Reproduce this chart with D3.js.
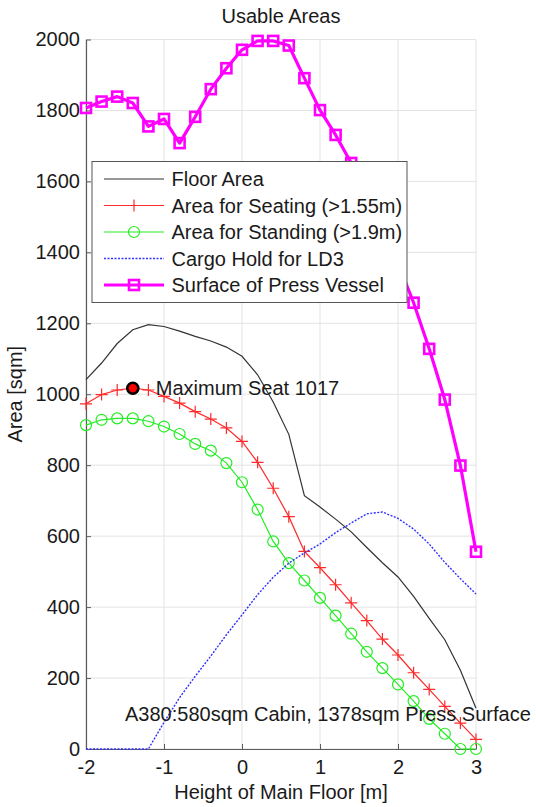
<!DOCTYPE html>
<html>
<head>
<meta charset="utf-8">
<script src="https://cdn.jsdelivr.net/npm/d3@7"></script>
<style>
  html, body { margin: 0; padding: 0; background: #fff; }
  svg { display: block; }
  text { font-family: "Liberation Sans", Arial, Helvetica, sans-serif; fill: #1a1a1a; }
</style>
</head>
<body>
<svg id="chart" width="536" height="807"></svg>
<script>
// ---- data ----
const heights = [-2, -1.8, -1.6, -1.4, -1.2, -1.0, -0.8, -0.6, -0.4, -0.2, 0, 0.2, 0.4, 0.6, 0.8, 1.0, 1.2, 1.4, 1.6, 1.8, 2.0, 2.2, 2.4, 2.6, 2.8, 3.0];
const floorArea   = [1041, 1088, 1143, 1182, 1196, 1191, 1178, 1163, 1150, 1133, 1107, 1055, 978, 887, 714, 682, 648, 612, 568, 525, 485, 430, 368, 308, 222, 115];
const seatingArea = [973, 999, 1012, 1017, 1012, 994, 975, 951, 930, 905, 867, 808, 735, 655, 557, 511, 463, 412, 362, 310, 265, 215, 168, 120, 73, 27];
const standingArea = [913, 928, 932, 932, 924, 909, 888, 860, 841, 806, 752, 675, 585, 524, 475, 426, 376, 325, 274, 228, 182, 135, 85, 43, 0, 0];
const cargoLD3    = [0, 0, 0, 0, 0, 75, 145, 205, 262, 322, 378, 435, 484, 524, 553, 578, 610, 637, 663, 668, 650, 620, 578, 526, 480, 437];
const pressVessel = [1807, 1825, 1839, 1821, 1755, 1776, 1708, 1782, 1860, 1919, 1971, 1996, 1996, 1983, 1891, 1801, 1731, 1652, 1560, 1468, 1370, 1258, 1128, 985, 799, 556];
const seriesNames = ["Floor Area", "Area for Seating (>1.55m)", "Area for Standing (>1.9m)", "Cargo Hold for LD3", "Surface of Press Vessel"];
const xTicks = [-2, -1, 0, 1, 2, 3];
const yTicks = [0, 200, 400, 600, 800, 1000, 1200, 1400, 1600, 1800, 2000];
const maxSeat = { x: -1.4, y: 1017, label: "Maximum Seat 1017" };
const note = { x: -1.5, y: 100, label: "A380:580sqm Cabin, 1378sqm Press Surface" };
const titleText = "Usable Areas";
const xLabel = "Height of Main Floor [m]";
const yLabel = "Area [sqm]";

// ---- layout ----
const FS = 20;
const pL = 86, pR = 476, pT = 39.5, pB = 749;
const svg = d3.select("#chart");
const x = d3.scaleLinear().domain([-2, 3]).range([pL, pR]);
const y = d3.scaleLinear().domain([0, 2000]).range([pB, pT]);

// grid
const grid = svg.append("g");
grid.selectAll("line.vx").data(xTicks).join("line")
  .attr("x1", d => x(d)).attr("x2", d => x(d)).attr("y1", pT).attr("y2", pB)
  .attr("stroke", "#e3e3e3").attr("stroke-width", 1);
grid.selectAll("line.hy").data(yTicks).join("line")
  .attr("x1", pL).attr("x2", pR).attr("y1", d => y(d)).attr("y2", d => y(d))
  .attr("stroke", "#e3e3e3").attr("stroke-width", 1);

// axes
const axisColor = "#5a5a5a";
const xAxis = svg.append("g").attr("transform", `translate(0,${pB})`)
  .call(d3.axisBottom(x).tickValues(xTicks).tickSizeInner(-5).tickSizeOuter(0).tickPadding(14).tickFormat(d => String(d)));
const yAxis = svg.append("g").attr("transform", `translate(${pL},0)`)
  .call(d3.axisLeft(y).tickValues(yTicks).tickSizeInner(-5).tickSizeOuter(0).tickPadding(6).tickFormat(d => String(d)));
[xAxis, yAxis].forEach(a => {
  a.select(".domain").attr("stroke", axisColor).attr("stroke-width", 1.2);
  a.selectAll(".tick line").attr("stroke", axisColor).attr("stroke-width", 1);
  a.selectAll(".tick text").attr("font-size", FS).attr("fill", "#1a1a1a")
    .attr("font-family", '"Liberation Sans", Arial, sans-serif');
});
xAxis.selectAll(".tick text").attr("dy", "0.71em").attr("y", 11);
yAxis.selectAll(".tick text").attr("x", -6);

// lines
const idx = d3.range(heights.length);
const lineOf = arr => d3.line().x(i => x(heights[i])).y(i => y(arr[i]));
const plot = svg.append("g");

// floor area
plot.append("path").attr("d", lineOf(floorArea)(idx))
  .attr("fill", "none").attr("stroke", "#333").attr("stroke-width", 1.2);

// seating
plot.append("path").attr("d", lineOf(seatingArea)(idx))
  .attr("fill", "none").attr("stroke", "#ff2a2a").attr("stroke-width", 1.2);
plot.selectAll("path.plus").data(idx).join("path")
  .attr("d", i => { const cx = x(heights[i]), cy = y(seatingArea[i]); return `M${cx-6},${cy}H${cx+6}M${cx},${cy-6}V${cy+6}`; })
  .attr("stroke", "#ff2a2a").attr("stroke-width", 1.2).attr("fill", "none");

// standing
plot.append("path").attr("d", lineOf(standingArea)(idx))
  .attr("fill", "none").attr("stroke", "#22ee22").attr("stroke-width", 1.2);
plot.selectAll("circle.std").data(idx).join("circle")
  .attr("cx", i => x(heights[i])).attr("cy", i => y(standingArea[i])).attr("r", 5.5)
  .attr("fill", "none").attr("stroke", "#22ee22").attr("stroke-width", 1.2);

// cargo
plot.append("path").attr("d", lineOf(cargoLD3)(idx))
  .attr("fill", "none").attr("stroke", "#3030ff").attr("stroke-width", 1.4)
  .attr("stroke-dasharray", "2 1.5");

// press vessel
plot.append("path").attr("d", lineOf(pressVessel)(idx))
  .attr("fill", "none").attr("stroke", "#ff00ff").attr("stroke-width", 3.2).attr("stroke-linejoin", "round");
plot.selectAll("rect.pv").data(idx).join("rect")
  .attr("x", i => x(heights[i]) - 5).attr("y", i => y(pressVessel[i]) - 5)
  .attr("width", 10).attr("height", 10)
  .attr("fill", "none").attr("stroke", "#ff00ff").attr("stroke-width", 2.6);

// max seat marker
svg.append("circle").attr("cx", x(maxSeat.x)).attr("cy", y(maxSeat.y)).attr("r", 5.5)
  .attr("fill", "#ff0000").attr("stroke", "#000").attr("stroke-width", 2.6);
svg.append("text").attr("x", x(maxSeat.x) + 23).attr("y", y(maxSeat.y)).attr("dy", "0.35em")
  .attr("font-size", FS).text(maxSeat.label);

// note
svg.append("text").attr("x", x(note.x)).attr("y", y(note.y)).attr("dy", "0.35em")
  .attr("font-size", FS).text(note.label);

// legend
const lg = svg.append("g");
lg.append("rect").attr("x", 92).attr("y", 161.5).attr("width", 315).attr("height", 141)
  .attr("fill", "#fff").attr("stroke", "#555").attr("stroke-width", 1);
const rowY = d3.range(5).map(i => 179 + i * 26.5);
const lx1 = 104, lx2 = 164, lmx = 134;
const styles = [
  { stroke: "#333", w: 1.2 },
  { stroke: "#ff2a2a", w: 1.2 },
  { stroke: "#22ee22", w: 1.2 },
  { stroke: "#3030ff", w: 1.4, dash: "2 1.5" },
  { stroke: "#ff00ff", w: 3.2 }
];
seriesNames.forEach((name, i) => {
  const yy = rowY[i];
  const s = styles[i];
  lg.append("line").attr("x1", lx1).attr("x2", lx2).attr("y1", yy).attr("y2", yy)
    .attr("stroke", s.stroke).attr("stroke-width", s.w).attr("stroke-dasharray", s.dash || null);
  if (i === 1) lg.append("path").attr("d", `M${lmx-6},${yy}H${lmx+6}M${lmx},${yy-6}V${yy+6}`)
    .attr("stroke", s.stroke).attr("stroke-width", 1.2);
  if (i === 2) lg.append("circle").attr("cx", lmx).attr("cy", yy).attr("r", 5.5)
    .attr("fill", "none").attr("stroke", s.stroke).attr("stroke-width", 1.2);
  if (i === 4) lg.append("rect").attr("x", lmx - 5).attr("y", yy - 5).attr("width", 10).attr("height", 10)
    .attr("fill", "none").attr("stroke", s.stroke).attr("stroke-width", 2.6);
  lg.append("text").attr("x", 171.5).attr("y", yy).attr("dy", "0.35em").attr("font-size", FS).text(name);
});

// titles
svg.append("text").attr("x", (pL + pR) / 2).attr("y", 22.7).attr("text-anchor", "middle")
  .attr("font-size", FS).text(titleText);
svg.append("text").attr("x", (pL + pR) / 2).attr("y", 798.5).attr("text-anchor", "middle")
  .attr("font-size", FS).text(xLabel);
svg.append("text").attr("transform", `translate(22,${(pT + pB) / 2}) rotate(-90)`)
  .attr("text-anchor", "middle").attr("font-size", FS).text(yLabel);
</script>
</body>
</html>
